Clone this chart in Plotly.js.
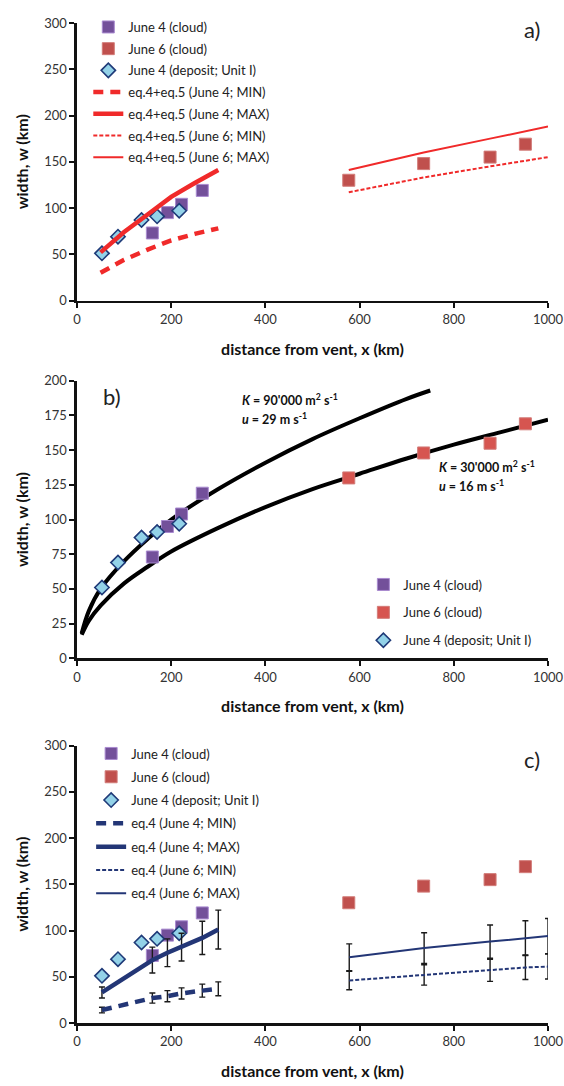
<!DOCTYPE html>
<html>
<head>
<meta charset="utf-8">
<script src="https://cdn.plot.ly/plotly-3.0.1.min.js"></script>
<style>
  html, body { margin: 0; padding: 0; background: #fff; }
  #chart { width: 564px; height: 1086px; }
</style>
</head>
<body>
<div id="chart"></div>
<script>
// ---- observations (distance from vent in km, plume width in km) ----
const cloudJune4X = [160, 192, 222, 266];
const cloudJune4W = [73, 95, 104, 119];
const cloudJune6X = [577, 736, 877, 952];
const cloudJune6W = [130, 148, 155, 169];
const depositJune4X = [53, 87, 137, 170, 217];
const depositJune4W = [51, 69, 87, 91, 97];

// ---- panel a: eq.4 + eq.5 ----
const eq45June4X = [50, 100, 150, 200, 250, 300];
const eq45June4Min = [30, 44, 55, 65, 72, 78];
const eq45June4Max = [52, 74, 93, 112, 127, 141];
const eq45June6X = [577, 736, 877, 952, 1000];
const eq45June6Min = [117, 133, 145, 151, 155];
const eq45June6Max = [141, 160, 175, 183, 188];

// ---- panel b: fitted curves ----
const fitHighX = [10, 25, 50, 100, 150, 200, 300, 400, 500, 600, 700, 750];
const fitHighW = [18, 34, 50, 70, 86, 100, 122, 141, 158, 173, 187, 193];
const fitLowX = [10, 25, 50, 100, 150, 200, 300, 400, 500, 600, 700, 800, 900, 1000];
const fitLowW = [17, 27, 38, 54, 66, 77, 94, 109, 122, 133, 144, 154, 163, 172];

// ---- panel c: eq.4 with uncertainty ----
const eq4June4X = [53, 160, 192, 222, 266, 300];
const eq4June4Min = [14, 27, 29, 32, 35, 37];
const eq4June4MinErr = [3, 5.5, 6, 6, 7, 7.5];
const eq4June4Max = [33, 68, 76, 82, 92, 101];
const eq4June4MaxErr = [6, 14, 15, 15, 18, 21];
const eq4June6X = [578, 737, 877, 952, 1000];
const eq4June6Min = [46, 52, 57, 60, 61];
const eq4June6MinErr = [10, 11, 12, 13, 13.5];
const eq4June6Max = [71, 81, 88, 92, 94];
const eq4June6MaxErr = [14.5, 16.5, 18, 18.5, 19];

// ---- labels ----
const xTicks = [0, 200, 400, 600, 800, 1000];
const xTitle = 'distance from vent, x (km)';
const yTitle = 'width, w (km)';
const panelLabels = ['a)', 'b)', 'c)'];

// ---- styling ----
const FONT = 'Lato, "Open Sans", sans-serif';
const PURPLE = '#73509a', PURPLE_EDGE = '#a98ad0';
const BRICK = '#c0504d', BRICK_EDGE = '#d27c79';
const BRICK_B = '#d65550';
const CYAN = '#93d2e8', NAVY_EDGE = '#1f3a78';
const RED = '#f02a2a';
const NAVY = '#233676';

function cloud4(xa, ya, legend, show) {
  return { x: cloudJune4X, y: cloudJune4W, xaxis: xa, yaxis: ya, type: 'scatter', mode: 'markers',
    name: 'June 4 (cloud)', legend: legend, showlegend: show, legendgroup: legend + 'c4',
    marker: { symbol: 'square', size: 12, color: PURPLE, line: { color: PURPLE_EDGE, width: 1 } } };
}
function cloud6(xa, ya, legend, show, col) {
  return { x: cloudJune6X, y: cloudJune6W, xaxis: xa, yaxis: ya, type: 'scatter', mode: 'markers',
    name: 'June 6 (cloud)', legend: legend, showlegend: show, legendgroup: legend + 'c6',
    marker: { symbol: 'square', size: 12, color: col, line: { color: BRICK_EDGE, width: 1 } } };
}
function deposit(xa, ya, legend, show) {
  return { x: depositJune4X, y: depositJune4W, xaxis: xa, yaxis: ya, type: 'scatter', mode: 'markers',
    name: 'June 4 (deposit; Unit I)', legend: legend, showlegend: show, legendgroup: legend + 'd4',
    marker: { symbol: 'diamond', size: 11, color: CYAN, line: { color: NAVY_EDGE, width: 1.6 } } };
}
function curve(x, y, xa, ya, name, legend, color, width, dash, grp) {
  return { x: x, y: y, xaxis: xa, yaxis: ya, type: 'scatter', mode: 'lines', name: name,
    legend: legend, legendgroup: legend + grp,
    line: { color: color, width: width, dash: dash } };
}
function errCurve(x, y, e, xa, ya, name, legend, width, dash, grp) {
  const t = curve(x, y, xa, ya, name, legend, NAVY, width, dash, grp);
  t.error_y = { type: 'data', array: e, symmetric: true, color: '#1a1a1a', thickness: 1.4, width: 3 };
  return t;
}

const data = [
  // panel a
  cloud4('x', 'y', 'legend', true),
  cloud6('x', 'y', 'legend', true, BRICK),
  deposit('x', 'y', 'legend', true),
  curve(eq45June4X, eq45June4Min, 'x', 'y', 'eq.4+eq.5 (June 4; MIN)', 'legend', RED, 4.5, '10px,7px', 'm4'),
  curve(eq45June4X, eq45June4Max, 'x', 'y', 'eq.4+eq.5 (June 4; MAX)', 'legend', RED, 4.5, 'solid', 'M4'),
  curve(eq45June6X, eq45June6Min, 'x', 'y', 'eq.4+eq.5 (June 6; MIN)', 'legend', RED, 2, '4px,2px', 'm6'),
  curve(eq45June6X, eq45June6Max, 'x', 'y', 'eq.4+eq.5 (June 6; MAX)', 'legend', RED, 2, 'solid', 'M6'),
  // panel b
  Object.assign(curve(fitHighX, fitHighW, 'x2', 'y2', 'K = 90000', 'legend2', '#000', 4, 'solid', 'fh'),
    { showlegend: false, line: { color: '#000', width: 4, shape: 'spline' } }),
  Object.assign(curve(fitLowX, fitLowW, 'x2', 'y2', 'K = 30000', 'legend2', '#000', 4, 'solid', 'fl'),
    { showlegend: false, line: { color: '#000', width: 4, shape: 'spline' } }),
  cloud4('x2', 'y2', 'legend2', true),
  cloud6('x2', 'y2', 'legend2', true, BRICK_B),
  deposit('x2', 'y2', 'legend2', true),
  // panel c
  cloud4('x3', 'y3', 'legend3', true),
  cloud6('x3', 'y3', 'legend3', true, BRICK),
  deposit('x3', 'y3', 'legend3', true),
  errCurve(eq4June4X, eq4June4Min, eq4June4MinErr, 'x3', 'y3', 'eq.4 (June 4; MIN)', 'legend3', 4.5, '10px,7px', 'm4'),
  errCurve(eq4June4X, eq4June4Max, eq4June4MaxErr, 'x3', 'y3', 'eq.4 (June 4; MAX)', 'legend3', 4.5, 'solid', 'M4'),
  errCurve(eq4June6X, eq4June6Min, eq4June6MinErr, 'x3', 'y3', 'eq.4 (June 6; MIN)', 'legend3', 2, '4px,2px', 'm6'),
  errCurve(eq4June6X, eq4June6Max, eq4June6MaxErr, 'x3', 'y3', 'eq.4 (June 6; MAX)', 'legend3', 2, 'solid', 'M6')
];

function xAxis(anchor) {
  return {
    anchor: anchor, domain: [0, 1], range: [0, 1000], tickvals: xTicks,
    showline: true, linewidth: 2.6, linecolor: '#111', mirror: false,
    ticks: 'outside', ticklen: 5, tickwidth: 2, tickcolor: '#111',
    showgrid: false, zeroline: false,
    tickfont: { family: FONT, size: 13, color: '#333' },
    title: { text: '<b>' + xTitle + '</b>', font: { family: FONT, size: 16, color: '#111' }, standoff: 18 },
    // keep the title standoff without letting labels resize the plot area
    automargin: 'left'
  };
}
function yAxis(anchor, domain, max, step) {
  return {
    anchor: anchor, domain: domain, range: [0, max], dtick: step, tick0: 0,
    showline: true, linewidth: 2.6, linecolor: '#111',
    ticks: 'outside', ticklen: 5, tickwidth: 2, tickcolor: '#111',
    showgrid: false, zeroline: false,
    tickfont: { family: FONT, size: 13, color: '#333' },
    title: { text: '<b>' + yTitle + '</b>', font: { family: FONT, size: 16, color: '#111' }, standoff: 12 },
    automargin: 'right'
  };
}
function legendBox(x, y, gap) {
  return { x: x, y: y, xanchor: 'left', yanchor: 'top', bgcolor: 'rgba(0,0,0,0)',
    borderwidth: 0, traceorder: 'grouped', tracegroupgap: gap,
    font: { family: FONT, size: 13, color: '#222' } };
}
function panelLabel(text, x, y) {
  return { text: text, xref: 'paper', yref: 'paper', x: x, y: y, showarrow: false,
    xanchor: 'center', yanchor: 'middle', font: { family: FONT, size: 22, color: '#222' } };
}
function fitLabel(text, x, y) {
  return { text: '<b>' + text + '</b>', xref: 'x2', yref: 'y2', x: x, y: y, showarrow: false,
    xanchor: 'left', yanchor: 'middle', font: { family: FONT, size: 12.5, color: '#111' } };
}

const layout = {
  width: 564, height: 1086,
  margin: { l: 77, r: 16, t: 14, b: 63 },
  paper_bgcolor: '#fff', plot_bgcolor: '#fff',
  font: { family: FONT, color: '#222' },
  xaxis: xAxis('y'), yaxis: yAxis('x', [0.7225, 1.0], 300, 50),
  xaxis2: xAxis('y2'), yaxis2: yAxis('x2', [0.3647, 0.6422], 200, 25),
  xaxis3: xAxis('y3'), yaxis3: yAxis('x3', [0, 0.2775], 300, 50),
  legend: legendBox(0.024, 1.011, 1.8),
  legend2: legendBox(0.608, 0.4535, 8),
  legend3: legendBox(0.03, 0.2845, 3.4),
  annotations: [
    panelLabel(panelLabels[0], 0.966, 0.994),
    panelLabel(panelLabels[1], 0.0743, 0.627),
    panelLabel(panelLabels[2], 0.966, 0.2636),
    fitLabel("<i>K</i> = 90'000 m<sup>2</sup> s<sup>-1</sup>", 346, 186.4),
    fitLabel('<i>u</i> = 29 m s<sup>-1</sup>', 346, 172.9),
    fitLabel("<i>K</i> = 30'000 m<sup>2</sup> s<sup>-1</sup>", 764, 137.9),
    fitLabel('<i>u</i> = 16 m s<sup>-1</sup>', 764, 124.3)
  ],
  showlegend: true
};

Plotly.newPlot('chart', data, layout, { staticPlot: true, displayModeBar: false });
</script>
</body>
</html>
